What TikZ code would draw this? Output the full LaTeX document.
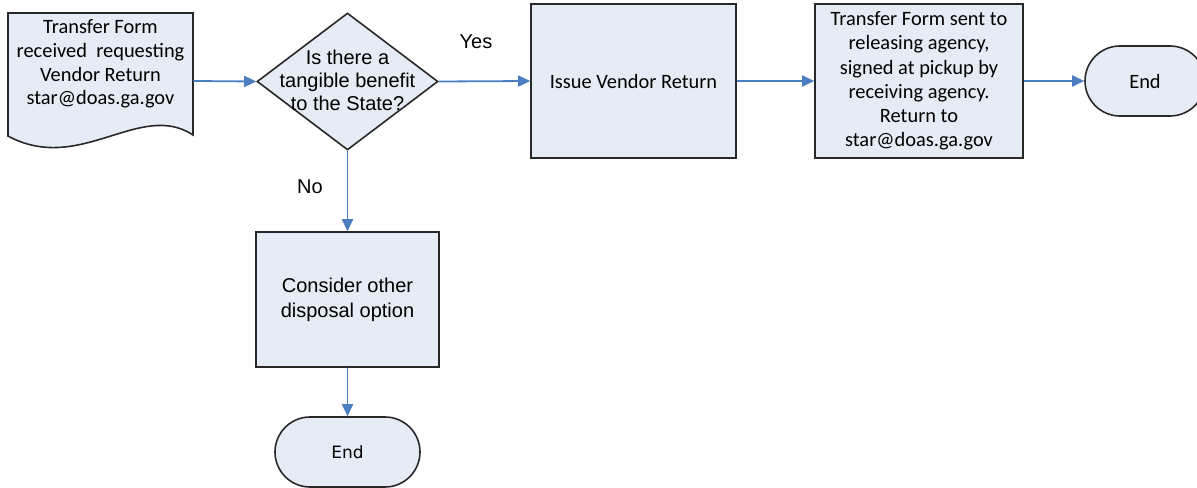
\documentclass[tikz,border=0pt]{standalone}
\usepackage{fontspec}
\setmainfont{Carlito}
\newfontfamily\arialf{Liberation Sans}
\newfontfamily\dejavuf{DejaVu Sans}
\usetikzlibrary{shapes.geometric,arrows.meta}
\definecolor{boxfill}{RGB}{230,236,246}
\definecolor{boxline}{RGB}{40,40,40}
\definecolor{arrowblue}{RGB}{74,126,193}
\begin{document}
\begin{tikzpicture}[x=0.5pt,y=-0.5pt,
  box/.style={draw=boxline, fill=boxfill, line width=0.8pt, inner sep=0pt, align=center},
  cal/.style={font=\fontsize{10.2}{12.1}\selectfont},
  ari/.style={font=\arialf\fontsize{10}{11.5}\selectfont},
  conn/.style={draw=arrowblue, line width=0.9pt, -{Triangle[length=6pt,width=5.5pt]}},
  endbox/.style={box, rounded corners=#1}]
\useasboundingbox (0,0) rectangle (1197,487);
% document shape
\path[box] (8,13) -- (193,13) -- (193,135) .. controls (140,100) and (80,175) .. (8,136) -- cycle;
\node[minimum width=92.5pt, minimum height=68.5pt, inner sep=0pt] (doc) at (100.5,81) {};
\node[align=center, font=\fontsize{10.2}{11.8}\selectfont] (doctext) at (100.5,64) {Transfer Form\\received~ requesting\\Vendor Return\\star@doas.ga.gov};
% decision
\node[box, diamond, minimum width=90.5pt, minimum height=68.5pt] (dec) at (347.5,81.5) {};
\node[ari, align=center] (dectext) at (347.5,80) {Is there a\\tangible benefit\\to the State?};
% issue
\node[box, cal, minimum width=102.5pt, minimum height=77pt] (issue) at (633.5,81) {Issue Vendor Return};
% transfer sent
\node[box, cal, minimum width=104pt, minimum height=77pt] (sent) at (919,81) {Transfer Form sent to\\releasing agency,\\signed at pickup by\\receiving agency.\\Return to\\star@doas.ga.gov};
% end top
\node[endbox=17.5pt, cal, minimum width=60pt, minimum height=35pt] (end1) at (1145,81) {End};
% consider
\node[box, font=\arialf\fontsize{10}{12.5}\selectfont, minimum width=91.5pt, minimum height=67.5pt] (cons) at (347.5,299.5) {Consider other\\disposal option};
% end bottom
\node[endbox=17.5pt, font=\dejavuf\fontsize{8.5}{10}\selectfont, minimum width=72.5pt, minimum height=35pt] (end2) at (347.5,452) {End};
% labels
\node[ari] (yes) at (476,42) {Yes};
\node[ari] (no) at (310,187) {No};
% connectors
\draw[conn] (doc.east) -- (dec.west);
\draw[conn] (dec.east) -- (issue.west);
\draw[conn] (issue.east) -- (sent.west);
\draw[conn] (sent.east) -- (end1.west);
\draw[conn] (dec.south) -- (cons.north);
\draw[conn] (cons.south) -- (end2.north);
\end{tikzpicture}
\end{document}
